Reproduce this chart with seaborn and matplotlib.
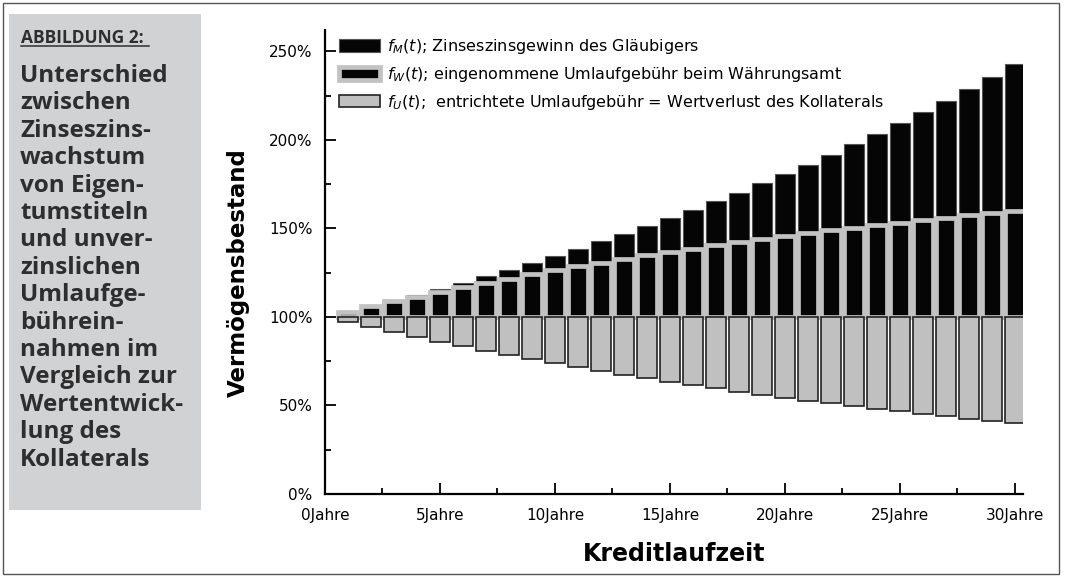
import matplotlib
matplotlib.use("Agg")
import matplotlib.pyplot as plt
from matplotlib.patches import Rectangle, Patch
from matplotlib.lines import Line2D
from matplotlib.ticker import MultipleLocator, FixedLocator, FixedFormatter
import seaborn as sns
import numpy as np

# ---- data (percent of initial wealth) ----
years = list(range(1, 31))
compound = [103.0, 106.1, 109.3, 112.6, 115.9, 119.4, 123.0, 126.7, 130.5, 134.4,
            138.4, 142.6, 146.9, 151.3, 155.8, 160.5, 165.3, 170.2, 175.4, 180.6,
            186.0, 191.6, 197.4, 203.3, 209.4, 215.7, 222.1, 228.8, 235.7, 242.7]
fee_income = [103.0, 105.9, 108.7, 111.5, 114.1, 116.7, 119.2, 121.6, 124.0, 126.3,
              128.5, 130.6, 132.7, 134.7, 136.7, 138.6, 140.4, 142.2, 143.9, 145.6,
              147.3, 148.8, 150.4, 151.9, 153.3, 154.7, 156.1, 157.4, 158.7, 159.9]
collateral = [97.0, 94.1, 91.3, 88.5, 85.9, 83.3, 80.8, 78.4, 76.0, 73.7,
              71.5, 69.4, 67.3, 65.3, 63.3, 61.4, 59.6, 57.8, 56.1, 54.4,
              52.7, 51.2, 49.6, 48.1, 46.7, 45.3, 43.9, 42.6, 41.3, 40.1]
base = 100.0

xtick_vals = [0, 5, 10, 15, 20, 25, 30]
xtick_labels = ["0Jahre", "5Jahre", "10Jahre", "15Jahre", "20Jahre", "25Jahre", "30Jahre"]
ytick_vals = [0, 50, 100, 150, 200, 250]
ytick_labels = ["0%", "50%", "100%", "150%", "200%", "250%"]

legend_labels = [r"$f_M(t)$; Zinseszinsgewinn des Gläubigers",
                 r"$f_W(t)$; eingenommene Umlaufgebühr beim Währungsamt",
                 r"$f_U(t)$;  entrichtete Umlaufgebühr = Wertverlust des Kollaterals"]

panel_title = "ABBILDUNG 2:"
panel_lines = ["Unterschied", "zwischen", "Zinseszins-", "wachstum", "von Eigen-",
               "tumstiteln", "und unver-", "zinslichen", "Umlaufge-", "bührein-",
               "nahmen im", "Vergleich zur", "Wertentwick-", "lung des", "Kollaterals"]

W, H = 1066, 577
fig = plt.figure(figsize=(W / 100, H / 100), dpi=100)
fig.patch.set_facecolor("white")

# outer frame
fig.add_artist(Rectangle((3 / W, 3 / H), 1056 / W, 571 / H, transform=fig.transFigure,
                         fill=False, edgecolor="#555555", lw=1.0))
# left grey panel
fig.add_artist(Rectangle((9 / W, 1 - 510 / H), 192 / W, 496 / H, transform=fig.transFigure,
                         facecolor="#d1d2d4", edgecolor="none"))
panel_font = ["Open Sans", "DejaVu Sans"]
fig.text(21 / W, 1 - 43 / H, panel_title, fontsize=12.5, fontweight="bold",
         color="#2e2e2e", family=panel_font, va="baseline", ha="left")
fig.add_artist(Line2D([21 / W, 149 / W], [1 - 46 / H, 1 - 46 / H], transform=fig.transFigure,
                      color="#2e2e2e", lw=1.1))
for i, line in enumerate(panel_lines):
    yb = 82 + i * 27.4
    fig.text(20 / W, 1 - yb / H, line, fontsize=17.5, fontweight="bold", color="#2e2e2e",
             family=panel_font, va="baseline", ha="left")

# ---- main axes ----
ax = fig.add_axes([325 / W, 1 - 494 / H, 698 / W, 464 / H])

top_h = [c - base for c in compound]
fee_h = [f - base for f in fee_income]
col_h = [c - base for c in collateral]

sns.barplot(x=years, y=top_h, native_scale=True, orient="x", width=0.87, bottom=base,
            color="#050505", saturation=1, edgecolor="#555555", linewidth=0.8,
            errorbar=None, ax=ax)
sns.barplot(x=years, y=fee_h, native_scale=True, orient="x", width=0.84, bottom=base,
            color="#050505", saturation=1, edgecolor="#c2c2c2", linewidth=3.4,
            errorbar=None, ax=ax)
sns.barplot(x=years, y=col_h, native_scale=True, orient="x", width=0.87, bottom=base,
            color="#c0c0c0", saturation=1, edgecolor="#222222", linewidth=1.2,
            errorbar=None, ax=ax)

ax.set_xlim(0, 30.35)
ax.set_ylim(0, 262)
for s in ["top", "right"]:
    ax.spines[s].set_visible(False)
for s in ["left", "bottom"]:
    ax.spines[s].set_linewidth(1.6)
    ax.spines[s].set_color("black")

ax.xaxis.set_major_locator(FixedLocator(xtick_vals))
ax.xaxis.set_major_formatter(FixedFormatter(xtick_labels))
ax.xaxis.set_minor_locator(MultipleLocator(2.5))
ax.yaxis.set_major_locator(FixedLocator(ytick_vals))
ax.yaxis.set_major_formatter(FixedFormatter(ytick_labels))
ax.yaxis.set_minor_locator(MultipleLocator(25))
ax.tick_params(which="major", direction="in", length=8, width=1.3, labelsize=11,
               colors="black")
ax.tick_params(which="minor", direction="in", length=4, width=1.3)
ax.tick_params(axis="x", which="major", pad=10)
ax.tick_params(axis="y", which="major", pad=9)

ax.set_xlabel("Kreditlaufzeit", fontsize=17, fontweight="bold")
ax.xaxis.set_label_coords(0.5, -0.103)
ax.set_ylabel("Vermögensbestand", fontsize=16.5, fontweight="bold")
ax.yaxis.set_label_coords(-0.107, 0.478)

handles = [Patch(facecolor="#050505", edgecolor="#555555", lw=0.8),
           Patch(facecolor="#050505", edgecolor="#c2c2c2", lw=3.4),
           Patch(facecolor="#c0c0c0", edgecolor="#222222", lw=1.2)]
ax.legend(handles, legend_labels, loc="upper left", bbox_to_anchor=(0.02, 0.985),
          frameon=False, fontsize=11.5, handlelength=2.6, handleheight=0.85,
          labelspacing=0.55, handletextpad=0.4, borderaxespad=0, borderpad=0)

fig.savefig("out.png", dpi=100)
